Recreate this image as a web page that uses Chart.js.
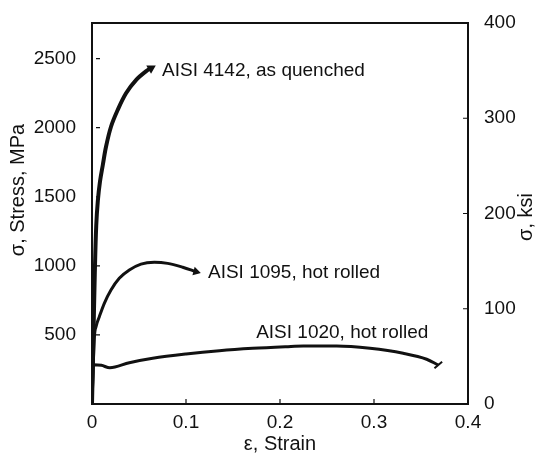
<!DOCTYPE html>
<html>
<head>
<meta charset="utf-8">
<script src="https://cdn.jsdelivr.net/npm/chart.js@4.4.1/dist/chart.umd.min.js"></script>
<style>
  html, body { margin: 0; padding: 0; background: #fff; }
  #wrap { width: 536px; height: 456px; }
</style>
</head>
<body>
<div id="wrap"><canvas id="ssChart" width="536" height="456"></canvas></div>
<script>
// --- DATA ---
const seriesNames = ['AISI 4142, as quenched', 'AISI 1095, hot rolled', 'AISI 1020, hot rolled'];

const strain4142 = [0, 0.0015, 0.003, 0.0045, 0.0062, 0.0085, 0.0115, 0.0149, 0.0202, 0.0273, 0.0362, 0.0468, 0.0593, 0.0628];
const stress4142 = [0, 480, 950, 1290, 1470, 1610, 1730, 1862, 2007, 2128, 2249, 2345, 2418, 2430];

const strain1095 = [0, 0.0025, 0.0045, 0.0078, 0.0131, 0.0202, 0.029, 0.0397, 0.0521, 0.0663, 0.0805, 0.0965, 0.1106];
const stress1095 = [0, 480, 565, 632, 729, 825, 910, 970, 1013, 1026, 1018, 990, 958];

const strain1020 = [0, 0.0015, 0.01, 0.019, 0.0397, 0.0646, 0.1, 0.1355, 0.171, 0.2064, 0.2248, 0.2603, 0.2957, 0.331, 0.356, 0.3684];
const stress1020 = [0, 285, 280, 262, 299, 331, 362, 386, 403, 415, 420, 420, 403, 367, 324, 282];

const xTicks = [0, 0.1, 0.2, 0.3, 0.4];
const mpaTicks = [500, 1000, 1500, 2000, 2500];
const ksiTicks = [0, 100, 200, 300, 400];
const KSI_TO_MPA = 6.894757;

const INK = '#111';
const FONT = '"Liberation Sans", Arial, sans-serif';
Chart.defaults.font.family = FONT;
Chart.defaults.color = INK;

function pts(xs, ys) { return xs.map((x, i) => ({ x: x, y: ys[i] })); }
function endOnly(arr, r) { return arr.map((_, i) => i === arr.length - 1 ? r : 0); }

// end markers: little arrow heads on the first two, a cross tick on 1020
const series = [
    { x: strain4142, y: stress4142, width: 4, style: 'triangle', rot: 60, r: 3.5, smooth: 'default' },
    { x: strain1095, y: stress1095, width: 3, style: 'triangle', rot: 105, r: 3, smooth: 'monotone' },
    { x: strain1020, y: stress1020, width: 3, style: 'line', rot: -40, r: 5, smooth: 'monotone' }
];

// label offsets from the end of each curve
const labelOffsets = [
    { dx: 11, dy: 2, align: 'left' },
    { dx: 12, dy: 1, align: 'left' },
    { dx: -10, dy: -32, align: 'right' }
];

const frameAndLabels = {
    id: 'frameAndLabels',
    afterDatasetsDraw(chart) {
        const { ctx, chartArea: a, scales } = chart;
        ctx.save();
        ctx.strokeStyle = INK;
        ctx.lineWidth = 2;
        ctx.strokeRect(a.left, a.top, a.right - a.left, a.bottom - a.top);

        // small inward tick marks
        ctx.lineWidth = 1.2;
        ctx.beginPath();
        scales.x.ticks.forEach(t => {
            const px = scales.x.getPixelForValue(t.value);
            ctx.moveTo(px, a.bottom); ctx.lineTo(px, a.bottom - 5);
        });
        scales.y.ticks.forEach(t => {
            const py = scales.y.getPixelForValue(t.value);
            ctx.moveTo(a.left + 4, py); ctx.lineTo(a.left + 8, py);
        });
        scales.y2.ticks.forEach(t => {
            const py = scales.y2.getPixelForValue(t.value);
            ctx.moveTo(a.right, py); ctx.lineTo(a.right - 5, py);
        });
        ctx.stroke();

        // curve labels
        ctx.fillStyle = INK;
        ctx.font = '19px ' + FONT;
        ctx.textBaseline = 'middle';
        chart.data.datasets.forEach((ds, i) => {
            const pts = chart.getDatasetMeta(i).data;
            const end = pts[pts.length - 1];
            const off = labelOffsets[i];
            ctx.textAlign = off.align;
            ctx.fillText(ds.label, end.x + off.dx, end.y + off.dy);
        });

        // axis titles, both read bottom to top
        ctx.font = '20px ' + FONT;
        ctx.textAlign = 'center';
        ctx.save();
        ctx.translate(18, 190);
        ctx.rotate(-Math.PI / 2);
        ctx.fillText('σ, Stress, MPa', 0, 0);
        ctx.restore();
        ctx.save();
        ctx.translate(526, 217);
        ctx.rotate(-Math.PI / 2);
        ctx.fillText('σ, ksi', 0, 0);
        ctx.restore();
        ctx.restore();
    }
};

new Chart(document.getElementById('ssChart'), {
    type: 'line',
    data: {
        datasets: series.map((s, i) => ({
            label: seriesNames[i],
            data: pts(s.x, s.y),
            borderColor: INK,
            backgroundColor: INK,
            borderWidth: s.width,
            cubicInterpolationMode: s.smooth,
            tension: 0.35,
            pointRadius: endOnly(s.x, s.r),
            pointStyle: s.style,
            rotation: s.rot,
            pointBorderWidth: 2,
            fill: false,
            yAxisID: 'y'
        }))
    },
    options: {
        responsive: false,
        animation: false,
        layout: { padding: { top: 23, left: 0, right: 0, bottom: 0 } },
        plugins: { legend: { display: false }, tooltip: { enabled: false } },
        scales: {
            x: {
                type: 'linear',
                min: 0,
                max: 0.4,
                afterBuildTicks: s => { s.ticks = xTicks.map(v => ({ value: v })); },
                afterFit: s => { s.height = 52; },
                grid: { display: false },
                border: { display: false },
                ticks: {
                    padding: -1,
                    font: { size: 19 },
                    callback: v => v === 0 ? '0' : v.toFixed(1)
                },
                title: { display: true, text: 'ε, Strain', font: { size: 20 }, padding: { top: 0, bottom: 0 } }
            },
            y: {
                position: 'left',
                min: 0,
                max: 400 * KSI_TO_MPA,
                afterBuildTicks: s => { s.ticks = mpaTicks.map(v => ({ value: v })); },
                afterFit: s => { s.width = 92; },
                grid: { display: false },
                border: { display: false },
                ticks: { padding: 8, font: { size: 19 }, callback: v => String(v) }
            },
            y2: {
                position: 'right',
                min: 0,
                max: 400,
                afterBuildTicks: s => { s.ticks = ksiTicks.map(v => ({ value: v })); },
                afterFit: s => { s.width = 68; },
                grid: { display: false },
                border: { display: false },
                ticks: { padding: 8, font: { size: 19 }, callback: v => String(v) }
            }
        }
    },
    plugins: [frameAndLabels]
});
</script>
</body>
</html>
